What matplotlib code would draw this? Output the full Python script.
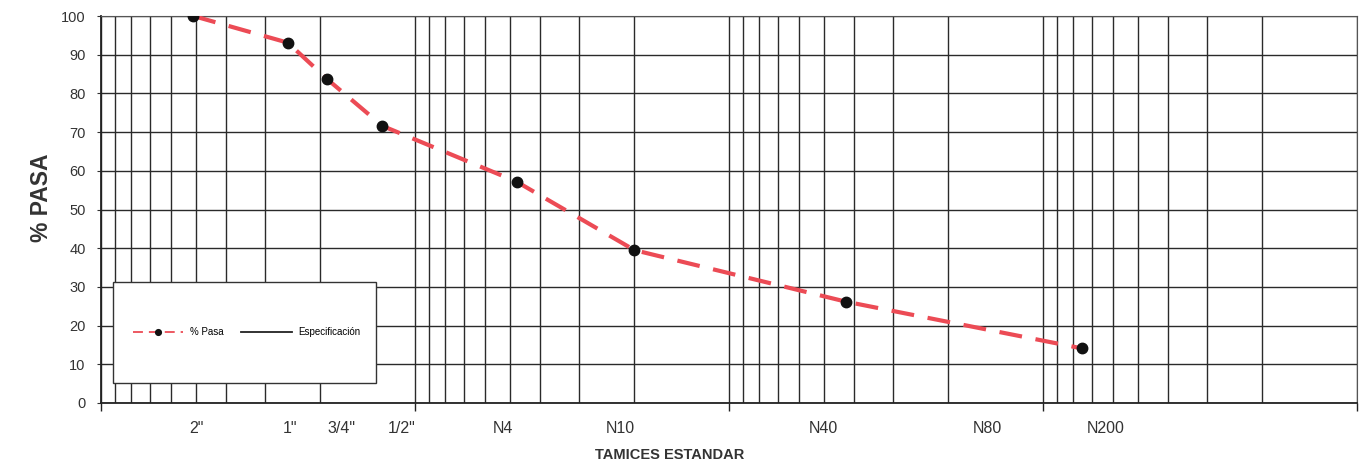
import matplotlib
matplotlib.use("Agg")
import matplotlib.pyplot as plt
import matplotlib.patches as mpatches
from matplotlib.ticker import LogLocator, NullFormatter, FixedLocator, MultipleLocator

# sieve axis labels and where they sit on the size axis (mm)
sieve_labels = ['2"', '1"', '3/4"', '1/2"', "N4", "N10", "N40", "N80", "N200"]
label_at_mm = [49.5, 25.0, 17.1, 11.0, 5.25, 2.22, 0.50, 0.150, 0.063]

# test results: sieve opening (mm) and % passing
test_mm = [50.8, 25.4, 19.05, 12.7, 4.75, 2.0, 0.425, 0.075]
pct_pasa = [100.0, 93.1, 83.7, 71.6, 57.2, 39.5, 26.2, 14.1]

# specification band (none given in this report)
spec_mm = []
spec_pct = []

W, H = 1361, 466
plt.rcParams["font.family"] = ["Liberation Sans", "DejaVu Sans"]

fig = plt.figure(figsize=(W / 100, H / 100), dpi=100)
ax = fig.add_axes([101 / W, (H - 403) / H, (1357 - 101) / W, (403 - 16) / H])

ax.set_xscale("log")
ax.set_xlim(100, 0.01)
ax.set_ylim(0, 100)

ax.xaxis.set_major_locator(LogLocator(base=10))
ax.xaxis.set_minor_locator(LogLocator(base=10, subs=range(2, 10)))
ax.xaxis.set_major_formatter(NullFormatter())
ax.xaxis.set_minor_formatter(NullFormatter())
ax.tick_params(axis="x", which="major", length=6, width=1, color="#222222")
ax.tick_params(axis="x", which="minor", length=0)

ax.yaxis.set_major_locator(MultipleLocator(10))
ax.tick_params(axis="y", length=3, width=0.8, pad=8, labelsize=10.5, colors="#333333")

ax.grid(which="both", axis="x", color="#2a2a2a", linewidth=1.0)
ax.grid(which="major", axis="y", color="#2a2a2a", linewidth=1.0)
ax.set_axisbelow(True)
for side in ["top", "right"]:
    ax.spines[side].set_color("#555555")
    ax.spines[side].set_linewidth(0.8)
for side in ["left", "bottom"]:
    ax.spines[side].set_color("#222222")
    ax.spines[side].set_linewidth(1.3)

# sieve names under the axis
sec = ax.secondary_xaxis("bottom")
sec.xaxis.set_major_locator(FixedLocator(label_at_mm))
sec.xaxis.set_major_formatter(plt.FixedFormatter(sieve_labels))
sec.xaxis.set_minor_locator(FixedLocator([]))
sec.tick_params(length=0, pad=13, labelsize=11.5, colors="#333333")
sec.spines["bottom"].set_visible(False)

line, = ax.plot(test_mm, pct_pasa, color="#ec4b55", linewidth=3.0,
                dashes=(5.5, 3.3), marker="o", markersize=7.5,
                markerfacecolor="#111111", markeredgecolor="#111111",
                label="% Pasa", zorder=3)
spec, = ax.plot(spec_mm, spec_pct, color="#222222", linewidth=0.9,
                label="Especificación")

# legend box
box = mpatches.Rectangle((0.0096, 0.052), 0.209, 0.261, transform=ax.transAxes,
                         facecolor="white", edgecolor="#333333", linewidth=1.0,
                         zorder=4)
ax.add_patch(box)
leg = ax.legend(handles=[line, spec], loc="center",
                bbox_to_anchor=(0.0096 + 0.209 / 2 + 0.002, 0.052 + 0.261 / 2),
                ncol=2, frameon=False, fontsize=7, handlelength=5.2,
                columnspacing=1.8, handletextpad=0.7, markerscale=0.55)
leg.set_zorder(5)
for h in leg.get_lines():
    h.set_linewidth(1.3)

ax.set_ylabel("% PASA", fontsize=16.5, fontweight="bold", color="#333333")
ax.yaxis.set_label_coords(-0.038, 0.53)
ax.set_xlabel("TAMICES ESTANDAR", fontsize=10.5, fontweight="bold", color="#333333")
ax.xaxis.set_label_coords(0.453, -0.115)

fig.savefig("out.png", dpi=100)
